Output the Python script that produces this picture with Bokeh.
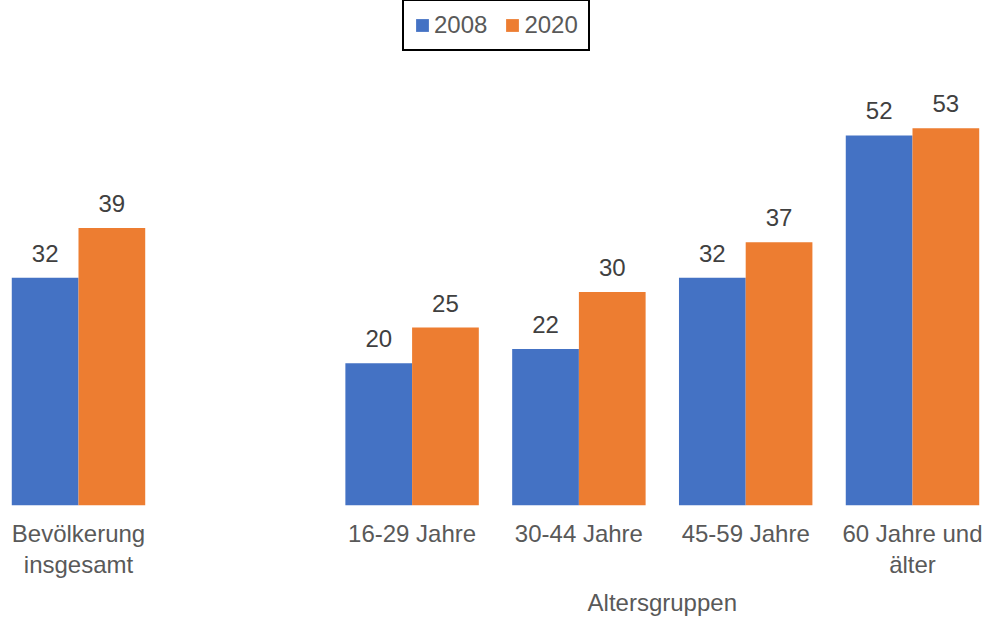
from bokeh.plotting import figure
from bokeh.models import (ColumnDataSource, Range1d, FixedTicker, LabelSet, LinearAxis)
from bokeh.core.properties import value
from bokeh.embed import file_html
from bokeh.resources import INLINE

# ---- data ----
categories = ["Bevölkerung\ninsgesamt", "16-29 Jahre", "30-44 Jahre", "45-59 Jahre", "60 Jahre und\nälter"]
series_names = ["2008", "2020"]
values_2008 = [32, 20, 22, 32, 52]
values_2020 = [39, 25, 30, 37, 53]
group_title = "Altersgruppen"

BLUE = "#4472C4"
ORANGE = "#ED7D31"
FONT = "Liberation Sans"

# slot positions: first category, one empty slot, then the age groups
slots = [0] + [i + 2 for i in range(len(categories) - 1)]
group_center = sum(slots[1:]) / len(slots[1:])

p = figure(width=984, height=618, output_backend="svg", toolbar_location=None,
           x_range=Range1d(-0.4676, 5.4317), y_range=Range1d(0, 70.97),
           y_axis_location=None,
           min_border_left=0, min_border_right=0, min_border_top=0, min_border_bottom=113)
p.outline_line_color = None
p.xgrid.visible = False
p.ygrid.visible = False
p.background_fill_color = "white"
p.border_fill_color = "white"

src08 = ColumnDataSource(dict(x=[s - 0.2 for s in slots], top=values_2008,
                              text=[str(v) for v in values_2008]))
src20 = ColumnDataSource(dict(x=[s + 0.2 for s in slots], top=values_2020,
                              text=[str(v) for v in values_2020]))

r1 = p.vbar(x="x", top="top", bottom=0, width=0.4, source=src08, fill_color=BLUE,
            line_color=None, legend_label=series_names[0])
r2 = p.vbar(x="x", top="top", bottom=0, width=0.4, source=src20, fill_color=ORANGE,
            line_color=None, legend_label=series_names[1])

for src in (src08, src20):
    p.add_layout(LabelSet(x="x", y="top", text="text", source=src, text_align="center",
                          text_baseline="alphabetic", y_offset=16,
                          text_font=value(FONT), text_font_size=value("24px"),
                          text_color=value("#404040")))


def style_axis(a, standoff):
    a.axis_line_color = None
    a.major_tick_line_color = None
    a.minor_tick_line_color = None
    a.major_tick_out = 0
    a.major_tick_in = 0
    a.minor_tick_out = 0
    a.minor_tick_in = 0
    a.major_label_standoff = standoff
    a.major_label_text_font = FONT
    a.major_label_text_font_size = "24px"
    a.major_label_text_color = "#595959"


ax = p.below[0]
ax.ticker = FixedTicker(ticks=slots)
ax.major_label_overrides = {s: c for s, c in zip(slots, categories)}
style_axis(ax, 14)
ax.major_label_text_line_height = 1.15

ax2 = LinearAxis(ticker=FixedTicker(ticks=[group_center]),
                 major_label_overrides={group_center: group_title})
style_axis(ax2, 8)
p.add_layout(ax2, "below")

lg = p.legend[0]
lg.orientation = "horizontal"
lg.location = (402, 454)
lg.border_line_color = "black"
lg.border_line_width = 2
lg.border_line_alpha = 1
lg.background_fill_color = "white"
lg.background_fill_alpha = 1
lg.label_text_font = FONT
lg.label_text_font_size = "24px"
lg.label_text_color = "#595959"
lg.glyph_width = 16
lg.glyph_height = 16
lg.label_standoff = 4
lg.spacing = 17
lg.padding = 10
lg.margin = 0

open("out.html", "w").write(file_html(p, INLINE))
